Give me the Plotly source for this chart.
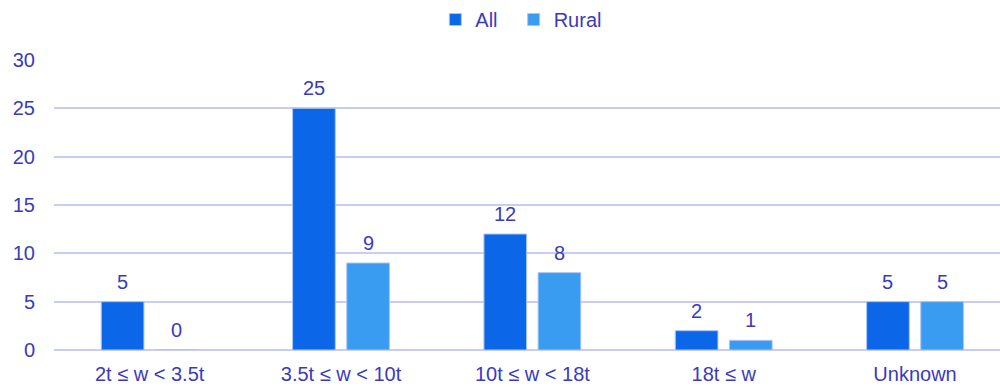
import plotly.graph_objects as go

categories = ["2t ≤ w < 3.5t", "3.5t ≤ w < 10t", "10t ≤ w < 18t", "18t ≤ w", "Unknown"]
all_counts = [5, 25, 12, 2, 5]
rural_counts = [0, 9, 8, 1, 5]
y_ticks = [0, 5, 10, 15, 20, 25, 30]

TEXT = "#3a3ac0"
FONT = "Liberation Sans, Arial, sans-serif"
BAR_W = 0.223
series = [
    ("All", all_counts, -0.253, "#0b66e8"),
    ("Rural", rural_counts, 0.030, "#3a9cf0"),
]
xs = list(range(len(categories)))

fig = go.Figure()
for name, values, off, color in series:
    fig.add_trace(go.Bar(
        # trailing no-break spaces widen the first legend entry slightly
        name=name + ("\u00a0\u00a0" if name == "All" else ""),
        x=xs, y=values, width=BAR_W, offset=off,
        marker=dict(color=color, line=dict(color="#a9c4f5", width=1)),
    ))
    # value labels above each bar
    for x, v in zip(xs, values):
        fig.add_annotation(
            x=x + off + BAR_W / 2, y=v, text=str(v), showarrow=False,
            yanchor="middle", yshift=20, font=dict(size=20, color=TEXT, family=FONT),
        )

fig.update_layout(
    width=1000, height=387,
    margin=dict(l=54, r=0, t=60, b=37, autoexpand=False),
    barmode="overlay",
    paper_bgcolor="white", plot_bgcolor="white",
    font=dict(family=FONT, color=TEXT, size=20),
    legend=dict(orientation="h", x=0.494, xanchor="center", y=1.0, yanchor="top",
                yref="container", font=dict(size=20, color=TEXT),
                traceorder="normal", itemwidth=30),
    showlegend=True,
)
fig.update_xaxes(
    tickmode="array", tickvals=xs, ticktext=categories,
    range=[-0.5, 4.444], showgrid=False, showline=False, zeroline=False,
    tickfont=dict(size=20, color=TEXT), ticks="", ticklabelstandoff=10, automargin=False,
)
fig.update_yaxes(
    range=[0, 30], tickvals=y_ticks, showgrid=True, gridcolor="#c9ccf5", gridwidth=2,
    zeroline=True, zerolinecolor="#c9ccf5", zerolinewidth=2,
    tickfont=dict(size=20, color=TEXT), ticks="", ticklabelstandoff=18, automargin=False,
)

fig.write_html("out.html")
